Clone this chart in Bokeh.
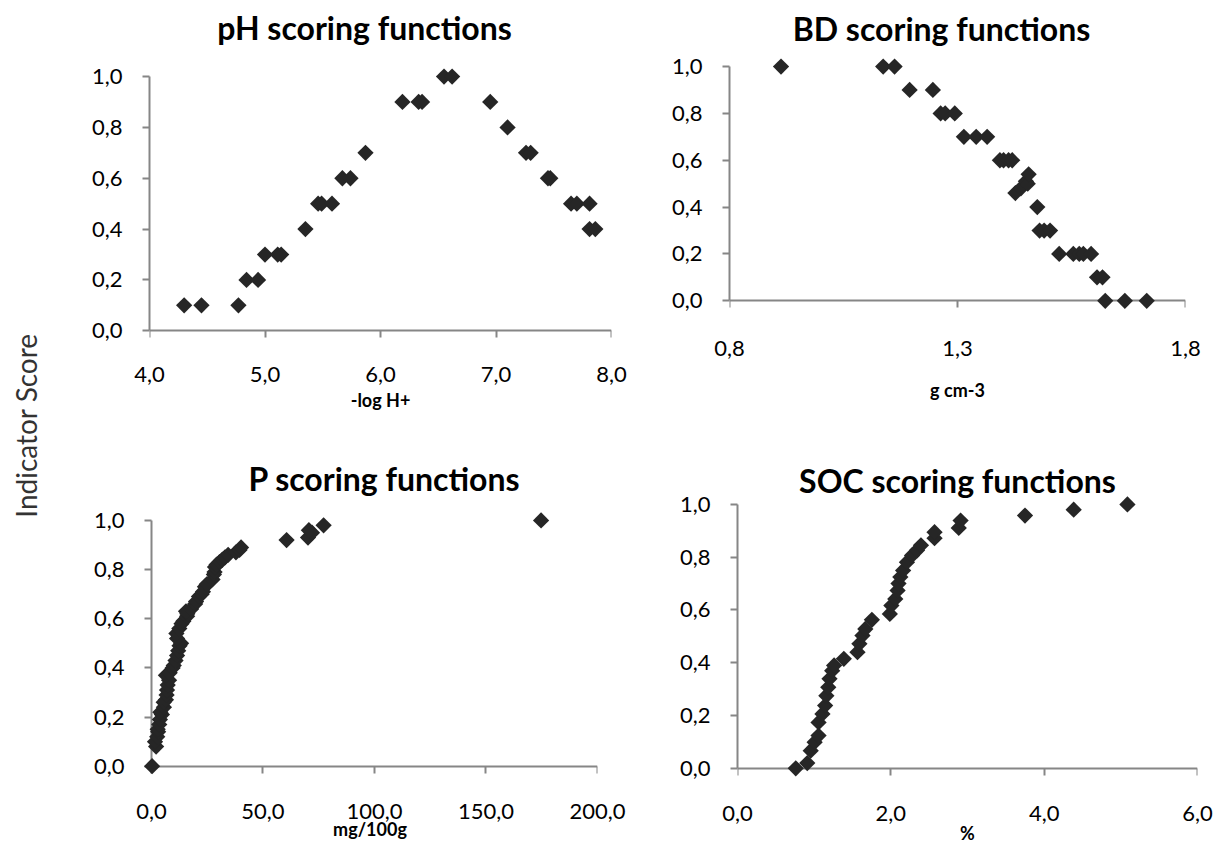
import numpy as np
from bokeh.plotting import figure
from bokeh.models import Range1d, FixedTicker, CustomJSTickFormatter, Label, LinearAxis
from bokeh.layouts import row, column
from bokeh.embed import file_html
from bokeh.resources import INLINE

# ---------------- data ----------------
ph_x = [4.30, 4.45, 4.77, 4.84, 4.94, 5.00, 5.11, 5.14, 5.35, 5.46, 5.49, 5.58, 5.67, 5.74, 5.87,
        6.19, 6.33, 6.36, 6.55, 6.62, 6.95, 7.10, 7.26, 7.30, 7.45, 7.47, 7.65, 7.70, 7.81, 7.81, 7.86]
ph_y = [0.1, 0.1, 0.1, 0.2, 0.2, 0.3, 0.3, 0.3, 0.4, 0.5, 0.5, 0.5, 0.6, 0.6, 0.7,
        0.9, 0.9, 0.9, 1.0, 1.0, 0.9, 0.8, 0.7, 0.7, 0.6, 0.6, 0.5, 0.5, 0.5, 0.4, 0.4]

bd_x = [0.913, 1.137, 1.162, 1.195, 1.246, 1.263, 1.273, 1.294, 1.314, 1.341, 1.365, 1.393, 1.401,
        1.412, 1.420, 1.427, 1.439, 1.450, 1.454, 1.456, 1.475, 1.480, 1.490, 1.503, 1.523, 1.554,
        1.567, 1.576, 1.593, 1.606, 1.618, 1.624, 1.667, 1.715]
bd_y = [1.0, 1.0, 1.0, 0.9, 0.9, 0.8, 0.8, 0.8, 0.7, 0.7, 0.7, 0.6, 0.6,
        0.6, 0.6, 0.46, 0.48, 0.51, 0.50, 0.54, 0.40, 0.30, 0.30, 0.30, 0.20, 0.20,
        0.20, 0.20, 0.20, 0.10, 0.10, 0.0, 0.0, 0.0]

p_x = [0.3, 2.1, 1.6, 2.6, 3.0, 2.8, 3.5, 3.8, 4.7, 4.0, 5.6, 5.5, 6.5, 6.8, 7.0, 7.3, 7.9, 6.5,
       8.2, 9.5, 10.0, 10.8, 11.5, 12.0, 12.6, 13.3, 11.5, 11.2, 12.5, 13.5, 14.3, 16.0, 16.1,
       15.5, 17.8, 19.6, 20.0, 21.3, 22.5, 23.1, 24.0, 24.8, 27.4, 28.0, 28.3, 28.5, 29.2, 30.5,
       31.8, 33.0, 34.4, 37.9, 39.5, 40.2, 60.6, 70.2, 72.0, 70.6, 77.2, 174.7]
p_y = [0.0, 0.08, 0.10, 0.12, 0.14, 0.15, 0.17, 0.19, 0.21, 0.22, 0.24, 0.26, 0.27, 0.29, 0.31,
       0.33, 0.35, 0.37, 0.38, 0.40, 0.41, 0.43, 0.45, 0.47, 0.49, 0.50, 0.52, 0.54, 0.56, 0.58,
       0.59, 0.61, 0.62, 0.63, 0.64, 0.66, 0.67, 0.69, 0.70, 0.71, 0.73, 0.74, 0.76, 0.78, 0.79,
       0.81, 0.82, 0.83, 0.84, 0.85, 0.86, 0.87, 0.88, 0.89, 0.92, 0.93, 0.95, 0.96, 0.98, 1.0]

soc_x = [0.76, 0.91, 0.955, 1.006, 1.057, 1.057, 1.108, 1.143, 1.159, 1.184, 1.20, 1.235, 1.26,
         1.387, 1.565, 1.59, 1.63, 1.667, 1.753, 1.987, 2.007, 2.058, 2.088, 2.10, 2.124, 2.16,
         2.21, 2.276, 2.342, 2.393, 2.57, 2.57, 2.886, 2.91, 3.75, 4.385, 5.086]
soc_y = [0.0, 0.02, 0.067, 0.099, 0.124, 0.174, 0.206, 0.238, 0.275, 0.307, 0.339, 0.37, 0.39,
         0.415, 0.44, 0.472, 0.503, 0.528, 0.563, 0.585, 0.617, 0.642, 0.674, 0.70, 0.725, 0.75,
         0.781, 0.807, 0.826, 0.845, 0.872, 0.895, 0.911, 0.939, 0.958, 0.98, 1.0]

y_ticks = [0.0, 0.2, 0.4, 0.6, 0.8, 1.0]
ph_xticks = [4.0, 5.0, 6.0, 7.0, 8.0]
bd_xticks = [0.8, 1.3, 1.8]
p_xticks = [0.0, 50.0, 100.0, 150.0, 200.0]
soc_xticks = [0.0, 2.0, 4.0, 6.0]

titles = ["pH scoring functions", "BD scoring functions", "P scoring functions", "SOC scoring functions"]
x_titles = ["-log H+", "g cm-3", "mg/100g", "%"]
y_title = "Indicator Score"

# ---------------- style ----------------
FONT = "Lato"
AXIS_COLOR = "#868686"
MARK = "#262626"
YPAD = 0.05
fmt = CustomJSTickFormatter(code="return tick.toFixed(1).replace('.', ',');")


def line_axis(ticks, bounds, loc):
    """Axis line + outward ticks drawn exactly at value 0 / x-min (no labels)."""
    ax = LinearAxis(fixed_location=loc, ticker=FixedTicker(ticks=ticks), bounds=bounds,
                    formatter=CustomJSTickFormatter(code="return '';"),
                    major_label_text_font_size="1px",
                    axis_line_color=AXIS_COLOR, axis_line_width=2,
                    major_tick_line_color=AXIS_COLOR, major_tick_line_width=2,
                    major_tick_out=7, major_tick_in=0, minor_tick_line_color=None,
                    level="underlay")
    return ax


def panel(xs, ys, xticks, title, xtitle, fig_w, fig_h, org, frame, title_xy,
          lab_std, xt_std, xpad=0.0):
    ox, oy = org
    x0, x1, y1, y0 = frame
    xlo, xhi = xticks[0], xticks[-1]
    ux = (x1 - x0) / (xhi - xlo)
    uy = (y0 - y1)
    pad_y = YPAD * uy
    pad_x = xpad * ux
    left = x0 - ox - pad_x
    right = fig_w - (x1 - ox)
    bottom = fig_h - (y0 - oy) - pad_y
    ytop = (y0 - oy) / uy          # frame reaches the top of the figure (room for title)
    p = figure(width=fig_w, height=fig_h, output_backend="svg", toolbar_location=None,
               x_range=Range1d(xlo - xpad, xhi), y_range=Range1d(-YPAD, ytop),
               min_border_left=int(round(left)), min_border_right=int(round(right)),
               min_border_top=0, min_border_bottom=int(round(bottom)),
               frame_align=False)
    p.outline_line_color = None
    p.grid.visible = False
    p.background_fill_color = "white"
    p.border_fill_color = "white"

    for ax in (p.xaxis[0], p.yaxis[0]):
        ax.major_tick_out = 7
        ax.major_tick_in = 0
        ax.minor_tick_line_color = None
        ax.major_label_text_font = FONT
        ax.major_label_text_font_size = "22px"
        ax.major_label_text_color = "black"

    # x axis: labels from the frame-edge axis, visible line drawn at y = 0
    p.xaxis.ticker = FixedTicker(ticks=xticks)
    p.xaxis.formatter = fmt
    p.xaxis.bounds = (xlo, xhi)
    p.xaxis.axis_line_color = None
    p.xaxis.major_tick_line_color = None
    p.xaxis.major_label_standoff = int(round(lab_std - pad_y))
    p.xaxis.axis_label = xtitle
    p.xaxis.axis_label_text_font = FONT
    p.xaxis.axis_label_text_font_style = "bold"
    p.xaxis.axis_label_text_font_size = "18px"
    p.xaxis.axis_label_text_color = "black"
    p.xaxis.axis_label_standoff = xt_std
    p.add_layout(line_axis(xticks, (xlo, xhi), 0), "below")

    # y axis
    p.yaxis.ticker = FixedTicker(ticks=y_ticks)
    p.yaxis.formatter = fmt
    p.yaxis.bounds = (0, 1)
    if xpad > 0:
        p.yaxis.axis_line_color = None
        p.yaxis.major_tick_line_color = None
        p.yaxis.major_label_standoff = int(round(20 - pad_x))
        p.add_layout(line_axis(y_ticks, (0, 1), xlo), "left")
    else:
        p.yaxis.axis_line_color = AXIS_COLOR
        p.yaxis.axis_line_width = 2
        p.yaxis.major_tick_line_color = AXIS_COLOR
        p.yaxis.major_tick_line_width = 2
        p.yaxis.major_label_standoff = 20

    p.scatter(xs, ys, marker="square", angle=np.pi / 4, size=11.5,
              fill_color=MARK, line_color=None)

    tx, ty = title_xy
    dx = xlo + (tx - x0) / ux
    dy = (y0 - ty) / uy
    p.add_layout(Label(x=dx, y=dy, text=title, text_align="center", text_baseline="middle",
                       text_font=FONT, text_font_style="bold", text_font_size="32px",
                       text_color="black"))
    return p


p1 = panel(ph_x, ph_y, ph_xticks, titles[0], x_titles[0], 600, 425, (60, 0),
           (149, 611, 76, 330), (364, 27), 29, 4)
p2 = panel(bd_x, bd_y, bd_xticks, titles[1], x_titles[1], 560, 425, (660, 0),
           (729, 1185, 66, 300), (941, 28), 33, 20)
p3 = panel(p_x, p_y, p_xticks, titles[2], x_titles[2], 600, 426, (60, 425),
           (151, 597, 520, 766), (384, 478), 30, -4, xpad=4.0)
p4 = panel(soc_x, soc_y, soc_xticks, titles[3], x_titles[3], 560, 426, (660, 425),
           (737, 1197, 504, 768), (957, 480), 30, -2)

lab = figure(width=60, height=851, output_backend="svg", toolbar_location=None,
             x_range=Range1d(0, 60), y_range=Range1d(0, 851),
             x_axis_type=None, y_axis_type=None, frame_align=False,
             min_border_left=0, min_border_right=0, min_border_top=0, min_border_bottom=0)
lab.outline_line_color = None
lab.grid.visible = False
lab.add_layout(Label(x=25, y=851 - 425, text=y_title, angle=np.pi / 2, text_align="center",
                     text_baseline="middle", text_font=FONT, text_font_size="28px",
                     text_color="#333333"))

layout = row(lab, column(row(p1, p2), row(p3, p4)))

open("out.html", "w").write(file_html(layout, INLINE))
